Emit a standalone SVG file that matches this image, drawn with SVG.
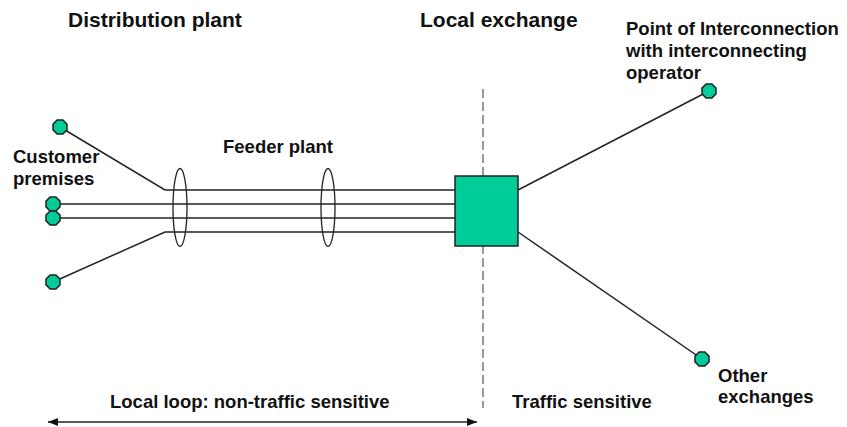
<svg xmlns="http://www.w3.org/2000/svg" xmlns:xlink="http://www.w3.org/1999/xlink" width="847" height="427" viewBox="0 0 847 427">
<style>
text{font-family:"Liberation Sans",Arial,sans-serif;font-weight:bold;fill:#111}
.h{font-size:21px}
.s{font-size:18.5px}
.ln{stroke:#222;stroke-width:1.5;fill:none}
.node{fill:#00CC99;stroke:#222;stroke-width:1.5}
.ell{fill:none;stroke:#222;stroke-width:1.3}
</style>
<defs>
<polygon id="oct" points="-2.9,-7 2.9,-7 7,-2.9 7,2.9 2.9,7 -2.9,7 -7,2.9 -7,-2.9"/>
<marker id="ah" viewBox="0 0 10 8" refX="10" refY="4" markerWidth="10" markerHeight="8" markerUnits="userSpaceOnUse" orient="auto-start-reverse">
<path d="M0,0 L10,4 L0,8 Z" fill="#111"/>
</marker>
</defs>
<rect width="847" height="427" fill="#fff"/>
<g id="labels">
<text class="h" x="68" y="27">Distribution plant</text>
<text class="h" x="420" y="27">Local exchange</text>
<text class="s" x="626" y="35">Point of Interconnection</text>
<text class="s" x="626" y="57">with interconnecting</text>
<text class="s" x="626" y="79">operator</text>
<text class="s" x="13" y="163">Customer</text>
<text class="s" x="13" y="185">premises</text>
<text class="s" x="223" y="153">Feeder plant</text>
<text class="s" x="110" y="408">Local loop: non-traffic sensitive</text>
<text class="s" x="512" y="408">Traffic sensitive</text>
<text class="s" x="718" y="382">Other</text>
<text class="s" x="718" y="403">exchanges</text>
</g>
<g id="connectors">
<line x1="483" y1="89" x2="483" y2="408" stroke="#555" stroke-width="1.2" stroke-dasharray="9 4"/>
<polyline class="ln" points="60,127 165,190 455,190"/>
<line class="ln" x1="53" y1="204" x2="455" y2="204"/>
<line class="ln" x1="53" y1="218" x2="455" y2="218"/>
<polyline class="ln" points="53,282 165,232 455,232"/>
<line class="ln" x1="518" y1="190" x2="709" y2="91"/>
<line class="ln" x1="518" y1="232" x2="702" y2="359"/>
<line class="ln" x1="48" y1="422" x2="477" y2="422" marker-start="url(#ah)" marker-end="url(#ah)"/>
</g>
<g id="feeder-bundle-1"><ellipse class="ell" cx="180" cy="207.5" rx="7" ry="39"/></g>
<g id="feeder-bundle-2"><ellipse class="ell" cx="328" cy="207.5" rx="7" ry="39"/></g>
<g id="exchange"><rect class="node" x="455" y="176" width="63" height="70"/></g>
<g id="cust-1"><use xlink:href="#oct" class="node" x="60" y="127"/></g>
<g id="cust-2"><use xlink:href="#oct" class="node" x="53" y="204"/></g>
<g id="cust-3"><use xlink:href="#oct" class="node" x="53" y="218"/></g>
<g id="cust-4"><use xlink:href="#oct" class="node" x="53" y="282"/></g>
<g id="poi"><use xlink:href="#oct" class="node" x="709" y="91"/></g>
<g id="other-exchange"><use xlink:href="#oct" class="node" x="702" y="359"/></g>
</svg>
